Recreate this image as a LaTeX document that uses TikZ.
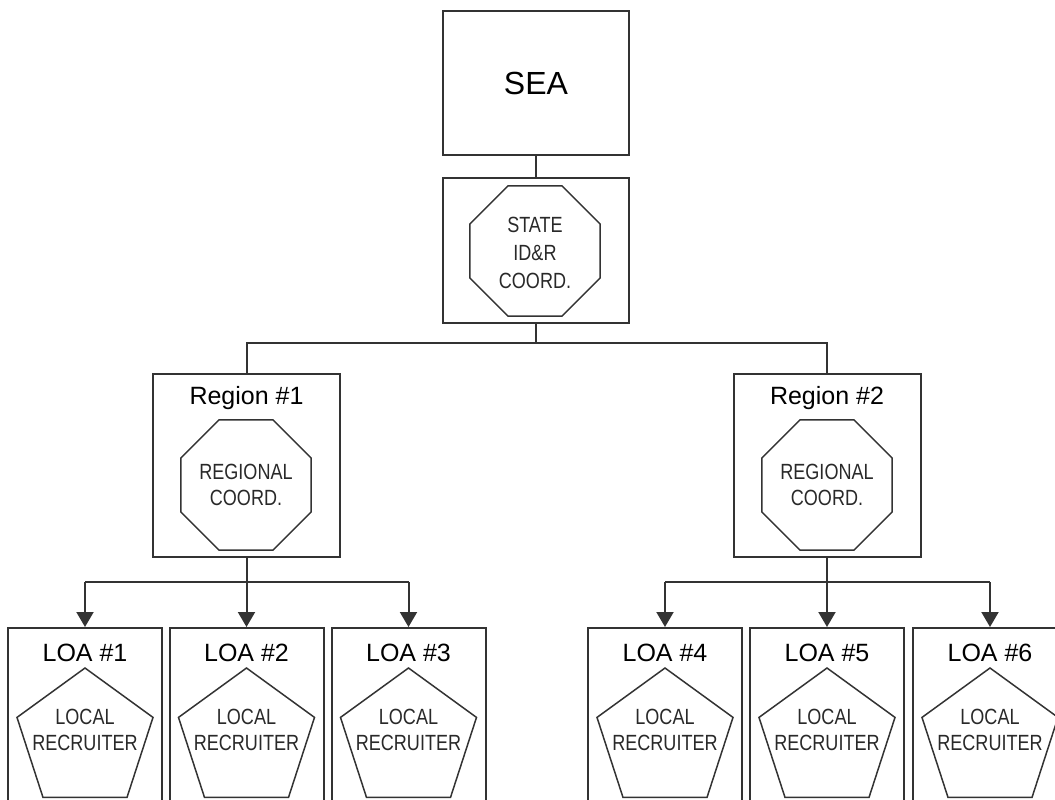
\documentclass[tikz,border=0pt]{standalone}
\usepackage{fontspec}
\setmainfont{Liberation Sans}
\newfontfamily\narrowfont[FakeStretch=0.82]{Liberation Sans}
\usetikzlibrary{shapes.geometric,arrows.meta}
\definecolor{ink}{HTML}{333333}
\tikzset{
  box/.style={draw=ink, line width=2pt, rectangle, inner sep=0pt},
  conn/.style={draw=ink, line width=2pt},
  arr/.style={conn, -{Triangle[width=17pt,length=15pt]}},
  octa/.style={draw=ink, line width=1.5pt, regular polygon, regular polygon sides=8, minimum size=141pt, inner sep=0pt},
  penta/.style={draw=ink, line width=1.5pt, regular polygon, regular polygon sides=5, minimum size=143pt, inner sep=0pt},
  small/.style={font=\narrowfont\fontsize{22}{26}\selectfont, align=center, inner sep=0pt, text=ink!80!black},
  title/.style={font=\fontsize{25}{30}\selectfont, inner sep=0pt, text=black},
}
\begin{document}
\begin{tikzpicture}[x=1pt,y=-1pt]
\clip (0,0) rectangle (1055,800);
\useasboundingbox (0,0) rectangle (1055,800);
% top
\node[box, minimum width=186pt, minimum height=144pt, font=\fontsize{32}{36}\selectfont] (sea) at (536,83) {SEA};
\node[box, minimum width=186pt, minimum height=145pt] (state) at (536,250.5) {};
\node[octa] (stoct) at (535,251) {};
\node[small, font=\narrowfont\fontsize{22}{28}\selectfont] (sttext) at (535,253) {STATE\\ID\&R\\COORD.};
% regions
\node[box, minimum width=187pt, minimum height=183pt] (r1) at (246.5,465.5) {};
\node[box, minimum width=187pt, minimum height=183pt] (r2) at (827,465.5) {};
\node[title] (r1t) at (246.5,398) {Region \#1};
\node[title] (r2t) at (827,398) {Region \#2};
\node[octa] (r1o) at (246,485) {};
\node[octa] (r2o) at (827,485) {};
\node[small] (r1x) at (246,485) {REGIONAL\\COORD.};
\node[small] (r2x) at (827,485) {REGIONAL\\COORD.};
% LOAs
\foreach \i/\x in {1/85,2/246.5,3/408.5,4/665,5/827,6/990}{
  \node[box, minimum width=154pt, minimum height=200pt, anchor=north] (loa\i) at (\x,627) {};
  \node[title] (loat\i) at (\x,653) {LOA \#\i};
  \node[penta] (pent\i) at (\x,739.5) {};
  \node[small] (pt\i) at (\x,730) {LOCAL\\RECRUITER};
}
% connectors
\draw[conn] (sea.south) -- (state.north);
\coordinate (busA) at (536,343);
\coordinate (busAL) at (246.5,343);
\coordinate (busAR) at (827,343);
\draw[conn] (state.south) -- (busA);
\draw[conn] (r1.north) -- (busAL) -- (busAR) -- (r2.north);
\coordinate (b1) at (246.5,582);
\coordinate (b1L) at (85,582);
\coordinate (b1R) at (408.5,582);
\draw[conn] (r1.south) -- (b1);
\draw[conn] (b1L) -- (b1R);
\draw[arr] (b1L) -- (loa1.north);
\draw[arr] (b1) -- (loa2.north);
\draw[arr] (b1R) -- (loa3.north);
\coordinate (b2) at (827,582);
\coordinate (b2L) at (665,582);
\coordinate (b2R) at (990,582);
\draw[conn] (r2.south) -- (b2);
\draw[conn] (b2L) -- (b2R);
\draw[arr] (b2L) -- (loa4.north);
\draw[arr] (b2) -- (loa5.north);
\draw[arr] (b2R) -- (loa6.north);
\end{tikzpicture}
\end{document}
